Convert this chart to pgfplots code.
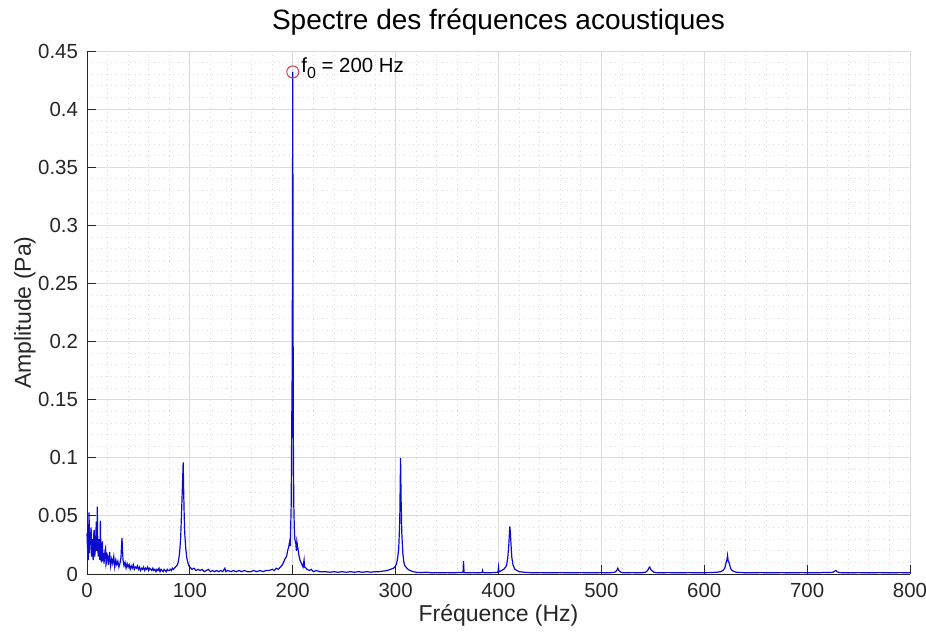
\documentclass[border=0pt]{standalone}
\usepackage{pgfplots}
\pgfplotsset{compat=1.18}
\usepackage{fontspec}
\setmainfont{Liberation Sans}
\definecolor{axgray}{RGB}{38,38,38}
\definecolor{specblue}{RGB}{10,10,210}
\definecolor{mkred}{RGB}{205,60,85}
\begin{document}
\begin{tikzpicture}
\begin{axis}[
  width=411.5pt, height=261.5pt, scale only axis,
  xmin=0, xmax=800, ymin=0, ymax=0.45,
  axis x line*=bottom, axis y line*=left,
  axis line style={axgray, line width=0.4pt, -},
  xtick={0,100,...,800},
  xticklabels={0,100,200,300,400,500,600,700,800},
  ytick={0,0.05,...,0.46},
  yticklabels={0,0.05,0.1,0.15,0.2,0.25,0.3,0.35,0.4,0.45},
  minor x tick num=4, minor y tick num=4,
  tick align=inside,
  major tick length=4.5pt, minor tick length=0pt,
  tick style={axgray, line width=0.4pt},
  grid=both,
  major grid style={gray!28, line width=0.4pt},
  minor grid style={gray!30, dotted, line width=0.4pt},
  ticklabel style={font=\fontsize{10.2}{12}\selectfont, text=axgray},
  xticklabel style={yshift=-1pt},
  yticklabel style={xshift=-1pt},
  xlabel={Fréquence (Hz)},
  ylabel={Amplitude (Pa)},
  label style={font=\fontsize{11.5}{13}\selectfont, text=axgray},
  xlabel style={at={(rel axis cs:0.5,0)}, anchor=base, yshift=-24pt},
  ylabel style={at={(rel axis cs:0,0.5)}, anchor=base, rotate=0, yshift=28pt},
  title={Spectre des fréquences acoustiques},
  title style={font=\fontsize{14}{16}\selectfont, text=black, at={(rel axis cs:0.5,1)}, anchor=base, yshift=4.5pt},
  clip=false,
]
\addplot[specblue, line width=0.6pt] coordinates {
(0,0.035) (0.5,0.022) (1,0.043) (1.5,0.012) (2,0.053) (2.5,0.018) (3,0.036) (3.5,0.025) (4,0.040) (4.5,0.015)
(5,0.030) (5.5,0.020) (6,0.012) (6.5,0.034) (7,0.038) (7.5,0.015) (8,0.020) (8.5,0.030) (9,0.045) (9.5,0.020)
(10,0.058) (10.5,0.022) (11,0.015) (11.5,0.025) (12,0.030) (12.5,0.012) (13,0.046) (13.5,0.018) (14,0.010) (14.5,0.022)
(15,0.028) (15.5,0.011) (16,0.018) (16.5,0.009) (17,0.014) (17.5,0.020) (18,0.022) (18.5,0.008) (19,0.010) (19.5,0.017)
(20,0.016) (21,0.008) (22,0.019) (23,0.007) (24,0.013) (25,0.009) (26,0.015) (27,0.006) (28,0.012) (29,0.008)
(30,0.011) (31,0.006) (32,0.009) (33,0.014) (34,0.031) (35,0.012) (36,0.007) (37,0.010) (38,0.005) (39,0.009)
(40,0.006) (41,0.008) (42,0.004) (43,0.007) (44,0.005) (45,0.008) (46,0.004) (47,0.006) (48,0.005) (49,0.007)
(50,0.004) (51,0.006) (52,0.003) (53,0.005) (54,0.004) (55,0.006) (56,0.003) (57,0.005) (58,0.004) (59,0.006)
(60,0.003) (61,0.005) (62,0.004) (63,0.003) (64,0.005) (65,0.003) (66,0.004) (67,0.002) (68,0.004) (69,0.003)
(70,0.005) (71,0.002) (72,0.004) (73,0.003) (74,0.002) (75,0.004) (76,0.003) (77,0.002) (78,0.004) (79,0.003)
(80,0.003) (81,0.004) (82,0.003) (83,0.005) (84,0.004) (85,0.005) (86,0.006) (87,0.007) (88,0.008) (89,0.012)
(90,0.018) (91,0.030) (92,0.055) (93,0.082) (93.5,0.096) (94,0.070) (94.5,0.050) (95,0.035) (96,0.022) (97,0.014)
(98,0.010) (99,0.007) (100,0.006) (102,0.004) (104,0.005) (106,0.003) (108,0.004) (110,0.003) (112,0.004) (114,0.002)
(116,0.003) (118,0.004) (120,0.002) (122,0.003) (124,0.002) (126,0.003) (128,0.002) (130,0.003) (132,0.002) (134,0.005)
(135,0.002) (137,0.003) (140,0.002) (142,0.003) (145,0.002) (148,0.003) (150,0.002) (153,0.003) (156,0.002) (159,0.002)
(162,0.003) (165,0.002) (168,0.003) (171,0.002) (174,0.003) (177,0.003) (180,0.004) (182,0.003) (184,0.005) (186,0.004)
(188,0.006) (189,0.007) (190,0.008) (191,0.010) (192,0.012) (193,0.014) (194,0.015) (195,0.020) (196,0.023) (197,0.028)
(197.5,0.024) (198,0.040) (198.5,0.060) (199,0.127) (199.5,0.180) (200,0.432) (200.5,0.127) (201,0.060) (201.5,0.040) (202,0.030)
(203,0.026) (203.5,0.020) (204,0.028) (205,0.022) (206,0.016) (207,0.012) (208,0.010) (209,0.008) (210,0.006) (211,0.012)
(211.5,0.006) (213,0.005) (214,0.004) (216,0.003) (218,0.004) (220,0.002) (223,0.003) (226,0.002) (229,0.002) (232,0.002)
(236,0.0015) (240,0.002) (244,0.0015) (248,0.002) (252,0.0015) (256,0.002) (260,0.0015) (264,0.002) (268,0.0015) (272,0.002)
(276,0.0015) (280,0.002) (284,0.002) (288,0.0025) (292,0.003) (295,0.004) (298,0.005) (300,0.007) (301,0.009) (302,0.014)
(303,0.022) (304,0.045) (304.8,0.100) (305.3,0.065) (306,0.035) (307,0.018) (308,0.010) (309,0.007) (310,0.006) (312,0.004)
(314,0.003) (317,0.002) (320,0.0015) (325,0.0012) (330,0.0015) (335,0.001) (340,0.0012) (345,0.001) (350,0.0012) (355,0.001)
(360,0.0012) (365.5,0.0012) (366,0.011) (366.5,0.0012) (370,0.001) (375,0.0012) (380,0.001) (384,0.0012) (384.5,0.003) (385,0.0012)
(390,0.001) (395,0.0012) (399.5,0.0015) (400,0.006) (400.5,0.0018) (403,0.003) (405,0.004) (407,0.006) (408,0.008) (409,0.014)
(410,0.025) (411,0.041) (411.5,0.036) (412,0.028) (412.5,0.020) (413,0.014) (414,0.008) (415,0.006) (416,0.004) (418,0.003)
(420,0.002) (425,0.0015) (430,0.0012) (435,0.001) (440,0.0012) (450,0.001) (460,0.0012) (470,0.001) (480,0.0012) (490,0.001)
(500,0.0012) (505,0.001) (510,0.0012) (513,0.0015) (515,0.003) (516,0.005) (517,0.003) (519,0.0015) (522,0.001) (530,0.0012)
(538,0.001) (543,0.0015) (545,0.003) (546,0.005) (547,0.006) (548,0.004) (549,0.003) (551,0.0015) (555,0.001) (565,0.0012)
(575,0.001) (585,0.0012) (595,0.001) (605,0.0012) (612,0.0015) (616,0.002) (618,0.003) (620,0.005) (621,0.009) (622,0.012)
(622.6,0.016) (623.3,0.011) (624,0.010) (625,0.007) (626,0.004) (628,0.0025) (631,0.0015) (636,0.0012) (645,0.001) (655,0.0012)
(665,0.001) (675,0.0012) (685,0.001) (695,0.0012) (705,0.001) (715,0.0012) (722,0.0012) (725,0.0015) (727,0.0025) (728,0.003)
(729,0.002) (731,0.0012) (740,0.001) (750,0.0012) (760,0.001) (770,0.0012) (780,0.001) (790,0.0012) (800,0.001)
};
\addplot[only marks, mark=o, mark size=3pt, mkred, mark options={line width=0.5pt}] coordinates {(200,0.432)};
\node[anchor=west, font=\fontsize{10.2}{12}\selectfont, text=black, inner sep=0pt] at (axis cs:208,0.435) {f\raisebox{-0.55ex}{\fontsize{8}{9}\selectfont 0} = 200 Hz};
\end{axis}
\pgfresetboundingbox
\path (-43.5pt,-30.5pt) rectangle (419.5pt,287pt);
\end{tikzpicture}
\end{document}
